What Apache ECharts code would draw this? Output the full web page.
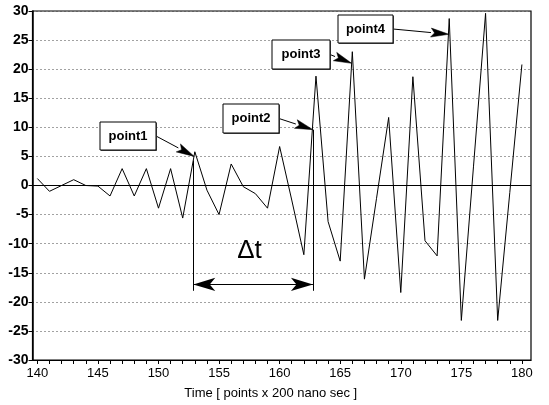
<!DOCTYPE html>
<html><head><meta charset="utf-8">
<script src="https://cdn.jsdelivr.net/npm/echarts@6/dist/echarts.min.js"></script>
<style>html,body{margin:0;padding:0;background:#fff}#c{width:549px;height:405px}</style>
</head><body><div id="c"></div>
<script>
// ---- data ----
const times = [140,141,142,143,144,145,146,147,148,149,150,151,152,153,154,155,156,157,158,159,160,
               161,162,163,164,165,166,167,168,169,170,171,172,173,174,175,176,177,178,179,180];
const values = [1.2,-1,0,1,0,-0.1,-1.8,2.9,-1.8,2.9,-3.9,2.9,-5.6,5.8,-0.8,-5,3.7,-0.2,-1.4,-3.9,6.7,
                -2.5,-11.9,18.8,-6.2,-13,23,-16.1,-2.2,11.7,-18.4,18.7,-9.5,-12.1,28.7,-23.2,3.2,29.6,-23.2,-1.2,20.8];
const xTickLabels = [140,145,150,155,160,165,170,175,180];
const xMinorTicks = times;
const yTickLabels = [-30,-25,-20,-15,-10,-5,0,5,10,15,20,25,30];
const xTitle = 'Time [ points x 200 nano sec ]';
const annotationLabels = ['point1','point2','point3','point4'];
const annotationTargets = [[152.95,5.0],[162.75,9.6],[165.95,21.0],[173.97,26.0]];
const deltaTimes = [152.87,162.75];
const deltaTops = [4.3,9.6];
const deltaLabel = 'Δt';

// ---- chart ----
const chart = echarts.init(document.getElementById('c'), null, {renderer:'canvas'});
const FONT = 'Liberation Sans, Arial, sans-serif';
const option = {
  animation:false,
  backgroundColor:'#fff',
  grid:{left:32.5,right:18,top:11,bottom:42,show:true,borderColor:'#000',borderWidth:1.2,backgroundColor:'transparent'},
  xAxis:{
    type:'value',min:139.6,max:180.75,
    axisLine:{show:true,onZero:false,lineStyle:{color:'#000',width:1.2}},
    axisTick:{show:true,customValues:xMinorTicks,length:4,lineStyle:{color:'#000',width:1}},
    axisLabel:{customValues:xTickLabels,color:'#000',fontSize:13,fontFamily:FONT,margin:7},
    splitLine:{show:false},
    name:xTitle,nameLocation:'middle',nameGap:27,
    nameTextStyle:{color:'#000',fontSize:13,fontFamily:FONT,padding:[0,22,0,0]}
  },
  yAxis:{
    type:'value',min:-30,max:30,interval:5,
    axisLine:{show:true,lineStyle:{color:'#000',width:1.5}},
    axisTick:{show:true,length:4,lineStyle:{color:'#000'}},
    axisLabel:{color:'#000',fontSize:14,fontWeight:'bold',fontFamily:FONT,margin:4,
      customValues:yTickLabels},
    splitLine:{show:true,lineStyle:{color:'#444',width:1,type:[1,3]}}
  },
  series:[{
    type:'line',
    data:times.map((t,i)=>[t,values[i]]),
    showSymbol:false,symbol:'none',
    lineStyle:{color:'#000',width:1},
    z:3,
    markLine:{
      silent:true,symbol:['none','none'],
      label:{show:false},
      lineStyle:{color:'#000',width:1,type:'solid'},
      data:[
        [{coord:[139.6,0]},{coord:[180.75,0]}],
        [{coord:[deltaTimes[0],deltaTops[0]]},{coord:[deltaTimes[0],-18.1]}],
        [{coord:[deltaTimes[1],deltaTops[1]]},{coord:[deltaTimes[1],-18.1]}],
        [{coord:[deltaTimes[0],-17],symbol:'arrow',symbolSize:[10,22]},
         {coord:[deltaTimes[1],-17],symbol:'arrow',symbolSize:[10,22]}]
      ]
    }
  }]
};
chart.setOption(option);

// ---- annotations (placed via the chart's scales) ----
const boxes = [[100,122,56,28],[223,104,56,29],[272,40,58,29],[338,15,55,28]];
const graphics = [];
annotationLabels.forEach((lab,i)=>{
  const [bx,by,bw,bh] = boxes[i];
  const tip = chart.convertToPixel({gridIndex:0}, annotationTargets[i]);
  const sx = bx+bw, sy = by+bh/2;
  const dx = tip[0]-sx, dy = tip[1]-sy, len = Math.hypot(dx,dy);
  const ux = dx/len, uy = dy/len, nx = -uy, ny = ux;
  const L = 18, W = 4.5;
  const baseX = tip[0]-ux*L, baseY = tip[1]-uy*L;
  graphics.push({type:'line',shape:{x1:sx,y1:sy,x2:baseX,y2:baseY},style:{stroke:'#000',lineWidth:1},z:10});
  graphics.push({type:'polygon',shape:{points:[[tip[0],tip[1]],[baseX+nx*W,baseY+ny*W],[tip[0]-ux*L*0.8,tip[1]-uy*L*0.8],[baseX-nx*W,baseY-ny*W]]},
    style:{fill:'#000',stroke:'#000',lineWidth:0.5},z:10});
  graphics.push({type:'rect',shape:{x:bx+1,y:by+1,width:bw,height:bh},style:{fill:'#555'},z:10});
  graphics.push({type:'rect',shape:{x:bx,y:by,width:bw,height:bh},style:{fill:'#fff',stroke:'#000',lineWidth:1},z:11});
  graphics.push({type:'text',x:bx+bw/2,y:by+bh/2,style:{text:lab,fill:'#000',font:'bold 13px '+FONT,align:'center',verticalAlign:'middle'},z:12});
});
const dpos = chart.convertToPixel({gridIndex:0}, [(deltaTimes[0]+deltaTimes[1])/2 - 0.3, -11.3]);
graphics.push({type:'text',x:dpos[0],y:dpos[1],style:{text:deltaLabel,fill:'#000',font:'26px '+FONT,align:'center',verticalAlign:'middle'},z:12});
chart.setOption({graphic:graphics});
</script></body></html>
